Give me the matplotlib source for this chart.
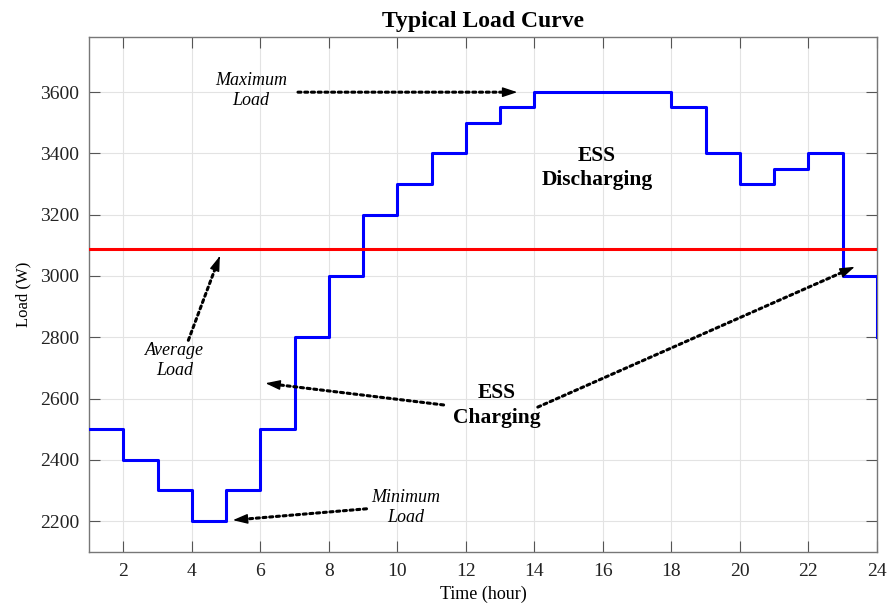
import numpy as np
import matplotlib.pyplot as plt

# hourly load profile (W), value held until the next hour
hours = np.arange(1, 25)
load = [2500, 2400, 2300, 2200, 2300, 2500, 2800, 3000, 3200, 3300, 3400, 3500,
        3550, 3600, 3600, 3600, 3600, 3550, 3400, 3300, 3350, 3400, 3000, 2800]
avg_load = np.mean(load)

x_ticks = list(range(2, 25, 2))
y_ticks = list(range(2200, 3601, 200))

plt.rcParams['font.family'] = ['Liberation Serif', 'DejaVu Serif']

fig = plt.figure(figsize=(8.89, 6.04), dpi=100)
ax = fig.add_axes([0.1001, 0.0861, 0.8864, 0.8526])

ax.step(hours, load, where='post', color='#0000ff', lw=2.2, zorder=3)
ax.axhline(avg_load, color='#ff0000', lw=2.2, zorder=3)

ax.set_xlim(1, 24)
ax.set_ylim(2099, 3780)
ax.set_xticks(x_ticks)
ax.set_yticks(y_ticks)
ax.tick_params(direction='in', length=8, width=0.8, colors='#555555',
               labelcolor='#222222', labelsize=14, top=True, right=True, pad=7)
ax.tick_params(axis='x', pad=8)
for s in ax.spines.values():
    s.set_color('#777777')
    s.set_linewidth(1.0)
ax.grid(True, color='#e3e3e3', lw=0.8)
ax.set_axisbelow(True)

ax.set_title('Typical Load Curve', fontsize=17, fontweight='bold', pad=7)
ax.set_xlabel('Time (hour)', fontsize=13, labelpad=4)
ax.set_ylabel('Load (W)', fontsize=12, labelpad=6)


def dotted_arrow(tail, tip):
    # dotted shaft plus a solid head sitting on the tip
    ax.annotate('', xy=tip, xytext=tail,
                arrowprops=dict(arrowstyle='-', color='black', lw=2.2,
                                linestyle=(0, (1, 1.2)), shrinkA=0, shrinkB=6))
    near = (tip[0] - 0.03 * (tip[0] - tail[0]), tip[1] - 0.03 * (tip[1] - tail[1]))
    ax.annotate('', xy=tip, xytext=near,
                arrowprops=dict(arrowstyle='-|>,head_length=0.9,head_width=0.3',
                                color='black', lw=1.0, shrinkA=0, shrinkB=0))


italic = dict(fontsize=13, fontstyle='italic', ha='center', va='center',
              linespacing=1.25)
bold = dict(fontsize=15.5, fontweight='bold', ha='center', va='center',
            linespacing=1.3)

ax.text(5.73, 3605, 'Maximum\nLoad', **italic)
dotted_arrow((7.1, 3600), (13.5, 3600))

ax.text(3.5, 2725, 'Average\nLoad', **italic)
dotted_arrow((3.9, 2790), (4.82, 3065))

ax.text(10.25, 2245, 'Minimum\nLoad', **italic)
dotted_arrow((9.1, 2240), (5.2, 2203))

ax.text(12.9, 2578, 'ESS\nCharging', **bold)
dotted_arrow((11.35, 2579), (6.15, 2650))
dotted_arrow((14.1, 2572), (23.35, 3030))

ax.text(15.83, 3352, 'ESS\nDischarging', **bold)

fig.savefig('out.png', dpi=100)
